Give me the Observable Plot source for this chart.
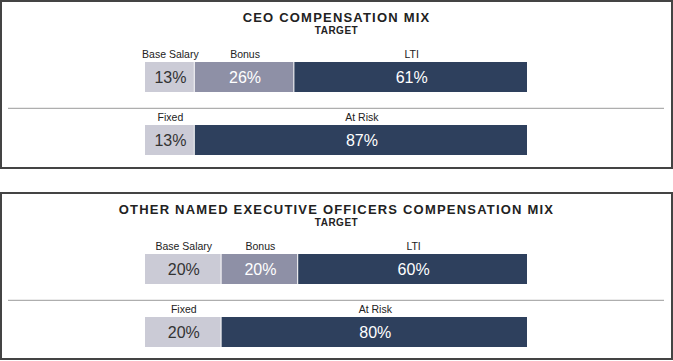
<!DOCTYPE html>
<html><head><meta charset="utf-8">
<script src="https://cdn.jsdelivr.net/npm/d3@7"></script>
<script src="https://cdn.jsdelivr.net/npm/@observablehq/plot@0.6"></script>
<style>
body{margin:0;background:#fff;font-family:"Liberation Sans",Arial,Helvetica,sans-serif;}
#root{position:relative;width:673px;height:361px;overflow:hidden;background:#fff}
.box{position:absolute;left:0;width:673px;box-sizing:border-box;border:2px solid #444;}
.title{position:absolute;left:0;width:673px;text-align:center;font-weight:bold;color:#222;white-space:nowrap}
.t1{font-size:13px;line-height:13px;letter-spacing:1.2px}
.t2{font-size:10px;line-height:10px;letter-spacing:0.5px}
.chart{position:absolute;left:0}
</style></head><body><div id="root"></div>
<script>
const panelTitles = ["CEO COMPENSATION MIX", "OTHER NAMED EXECUTIVE OFFICERS COMPENSATION MIX"];
const panelSubtitles = ["TARGET", "TARGET"];
const rows = ["Components", "Fixed vs. At Risk"];
const componentLabels = ["Base Salary", "Bonus", "LTI"];
const riskLabels = ["Fixed", "At Risk"];
const ceoComponents = [13, 26, 61];
const ceoRisk = [13, 87];
const neoComponents = [20, 20, 60];
const neoRisk = [20, 80];
const colorDomain = ["Base Salary", "Bonus", "LTI", "Fixed", "At Risk"];
const colorRange = ["#cbcbd6", "#8e90a6", "#2e405d", "#cbcbd6", "#2e405d"];
const lightLabels = ["Base Salary", "Fixed"];

const root = document.getElementById("root");
const FONT = '"Liberation Sans", Arial, Helvetica, sans-serif';

function panel(i, components, risk, top, boxHeight) {
  const box = document.createElement("div");
  box.className = "box";
  box.style.top = top + "px";
  box.style.height = boxHeight + "px";
  root.appendChild(box);

  const t = document.createElement("div");
  t.className = "title t1";
  t.style.top = (top + 10.7) + "px";
  t.textContent = panelTitles[i];
  root.appendChild(t);

  const s = document.createElement("div");
  s.className = "title t2";
  s.style.top = (top + 26.3) + "px";
  s.textContent = panelSubtitles[i];
  root.appendChild(s);

  const data = [
    ...componentLabels.map((l, k) => ({row: rows[0], label: l, value: components[k]})),
    ...riskLabels.map((l, k) => ({row: rows[1], label: l, value: risk[k]}))
  ];
  const stack = (o) => Plot.stackX({x: "value", y: "row", order: null, ...o});

  const chart = Plot.plot({
    width: 673, height: 120,
    marginLeft: 8, marginRight: 9, marginTop: 0, marginBottom: 0,
    x: {domain: [0, 100], range: [145, 528], axis: null},
    y: {type: "band", domain: rows, range: [21, 115.5], paddingInner: 0.523, paddingOuter: 0, axis: null},
    color: {domain: colorDomain, range: colorRange},
    style: {fontFamily: FONT, background: "transparent", overflow: "visible"},
    marks: [
      Plot.ruleY([rows[1]], {stroke: "#9a9a9a", strokeWidth: 1, dy: -32.2}),
      Plot.barX(data, stack({fill: "label", insetRight: 1})),
      Plot.text(data, stack({text: d => lightLabels.includes(d.label) ? d.value + "%" : "", fill: "#333", fontSize: 16, lineAnchor: "middle", dy: 0.5})),
      Plot.text(data, stack({text: d => lightLabels.includes(d.label) ? "" : d.value + "%", fill: "#fff", fontSize: 16, lineAnchor: "middle", dy: 0.5})),
      Plot.text(data, stack({text: "label", fill: "#222", fontSize: 10.5, lineAnchor: "bottom", dy: -19.2}))
    ]
  });
  chart.classList.add("chart");
  chart.style.top = (top + 40) + "px";
  root.appendChild(chart);
}

panel(0, ceoComponents, ceoRisk, 0, 169);
panel(1, neoComponents, neoRisk, 192, 168);
</script></body></html>
